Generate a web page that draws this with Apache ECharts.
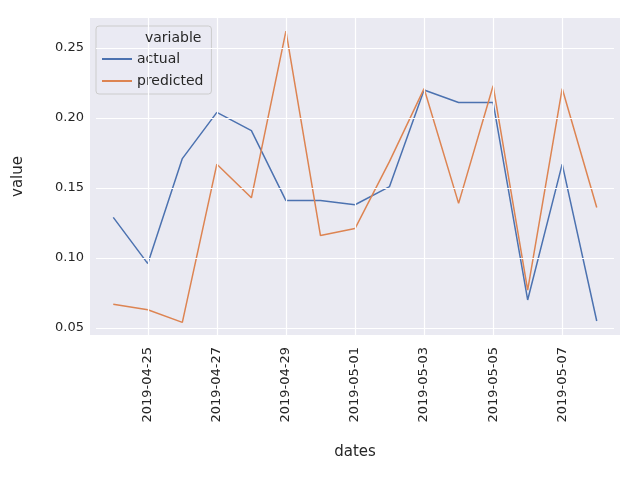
<!DOCTYPE html>
<html>
<head>
<meta charset="utf-8">
<script src="https://cdn.jsdelivr.net/npm/echarts@6/dist/echarts.min.js"></script>
<style>html,body{margin:0;padding:0;background:#fff}#main{width:640px;height:480px}</style>
</head>
<body>
<div id="main"></div>
<script>
// 数据
const dates = ['2019-04-24', '2019-04-25', '2019-04-26', '2019-04-27', '2019-04-28', '2019-04-29', '2019-04-30',
    '2019-05-01', '2019-05-02', '2019-05-03', '2019-05-04', '2019-05-05', '2019-05-06', '2019-05-07', '2019-05-08']
const actual = [0.129, 0.096, 0.171, 0.204, 0.191, 0.141, 0.141, 0.138, 0.151, 0.220, 0.211, 0.211, 0.070, 0.167, 0.055]
const predicted = [0.067, 0.063, 0.054, 0.167, 0.143, 0.262, 0.116, 0.121, 0.169, 0.221, 0.139, 0.223, 0.077, 0.221, 0.136]
const yTicks = [0.05, 0.10, 0.15, 0.20, 0.25]

const font = 'DejaVu Sans'
const shown = idx => idx % 2 === 1

let myChart = echarts.init(document.getElementById('main'))
let gridLines = {
    silent: true,
    symbol: 'none',
    lineStyle: { color: '#fff', width: 1.2, type: 'solid' },
    data: []
}
yTicks.forEach(v => gridLines.data.push({
    yAxis: v,
    label: { show: true, position: 'start', formatter: v.toFixed(2), color: '#262626', fontSize: 13, fontFamily: font, distance: 12 }
}))
dates.forEach((d, i) => { if (shown(i)) gridLines.data.push({ xAxis: d, label: { show: false } }) })

let option = {
    animation: false,
    textStyle: { fontFamily: font },
    color: ['#4c72b0', '#dd8452'],
    graphic: [
        { type: 'rect', z: -100, shape: { x: 90, y: 18, width: 530, height: 317 }, style: { fill: '#eaeaf2' } },
        // 左右两侧补齐网格线
        { type: 'group', z: -50, children: [] },
        { type: 'text', z: 100, left: 145, top: 31, style: { text: 'variable', fill: '#262626', font: '14px DejaVu Sans' } }
    ],
    legend: {
        orient: 'vertical',
        left: 96, top: 26,
        padding: [26, 8, 6, 6],
        itemGap: 8,
        itemWidth: 30, itemHeight: 2,
        backgroundColor: 'rgba(234,234,242,0.8)',
        borderColor: '#cccccc', borderWidth: 1, borderRadius: 3,
        icon: 'rect',
        textStyle: { color: '#262626', fontSize: 14, fontFamily: font },
        data: ['actual', 'predicted']
    },
    grid: { left: 96, right: 26, top: 18, bottom: 145 },
    xAxis: {
        type: 'category',
        data: dates,
        boundaryGap: true,
        name: 'dates', nameLocation: 'middle', nameGap: 110,
        nameTextStyle: { color: '#262626', fontSize: 15, fontFamily: font },
        axisLine: { show: false },
        axisTick: { show: false },
        splitLine: { show: false },
        axisLabel: { interval: (i) => shown(i), rotate: 90, color: '#262626', fontSize: 13, fontFamily: font, margin: 12 }
    },
    yAxis: {
        type: 'value',
        min: 0.045, max: 0.2714,
        name: 'value', nameLocation: 'middle', nameGap: 70,
        nameTextStyle: { color: '#262626', fontSize: 15, fontFamily: font },
        axisLine: { show: false }, axisTick: { show: false },
        axisLabel: { show: false }, splitLine: { show: false }
    },
    series: [
        { name: 'actual', type: 'line', data: actual, showSymbol: false, lineStyle: { width: 1.5 }, markLine: gridLines, z: 3 },
        { name: 'predicted', type: 'line', data: predicted, showSymbol: false, lineStyle: { width: 1.5 }, z: 3 }
    ]
}
myChart.setOption(option)
</script>
</body>
</html>
